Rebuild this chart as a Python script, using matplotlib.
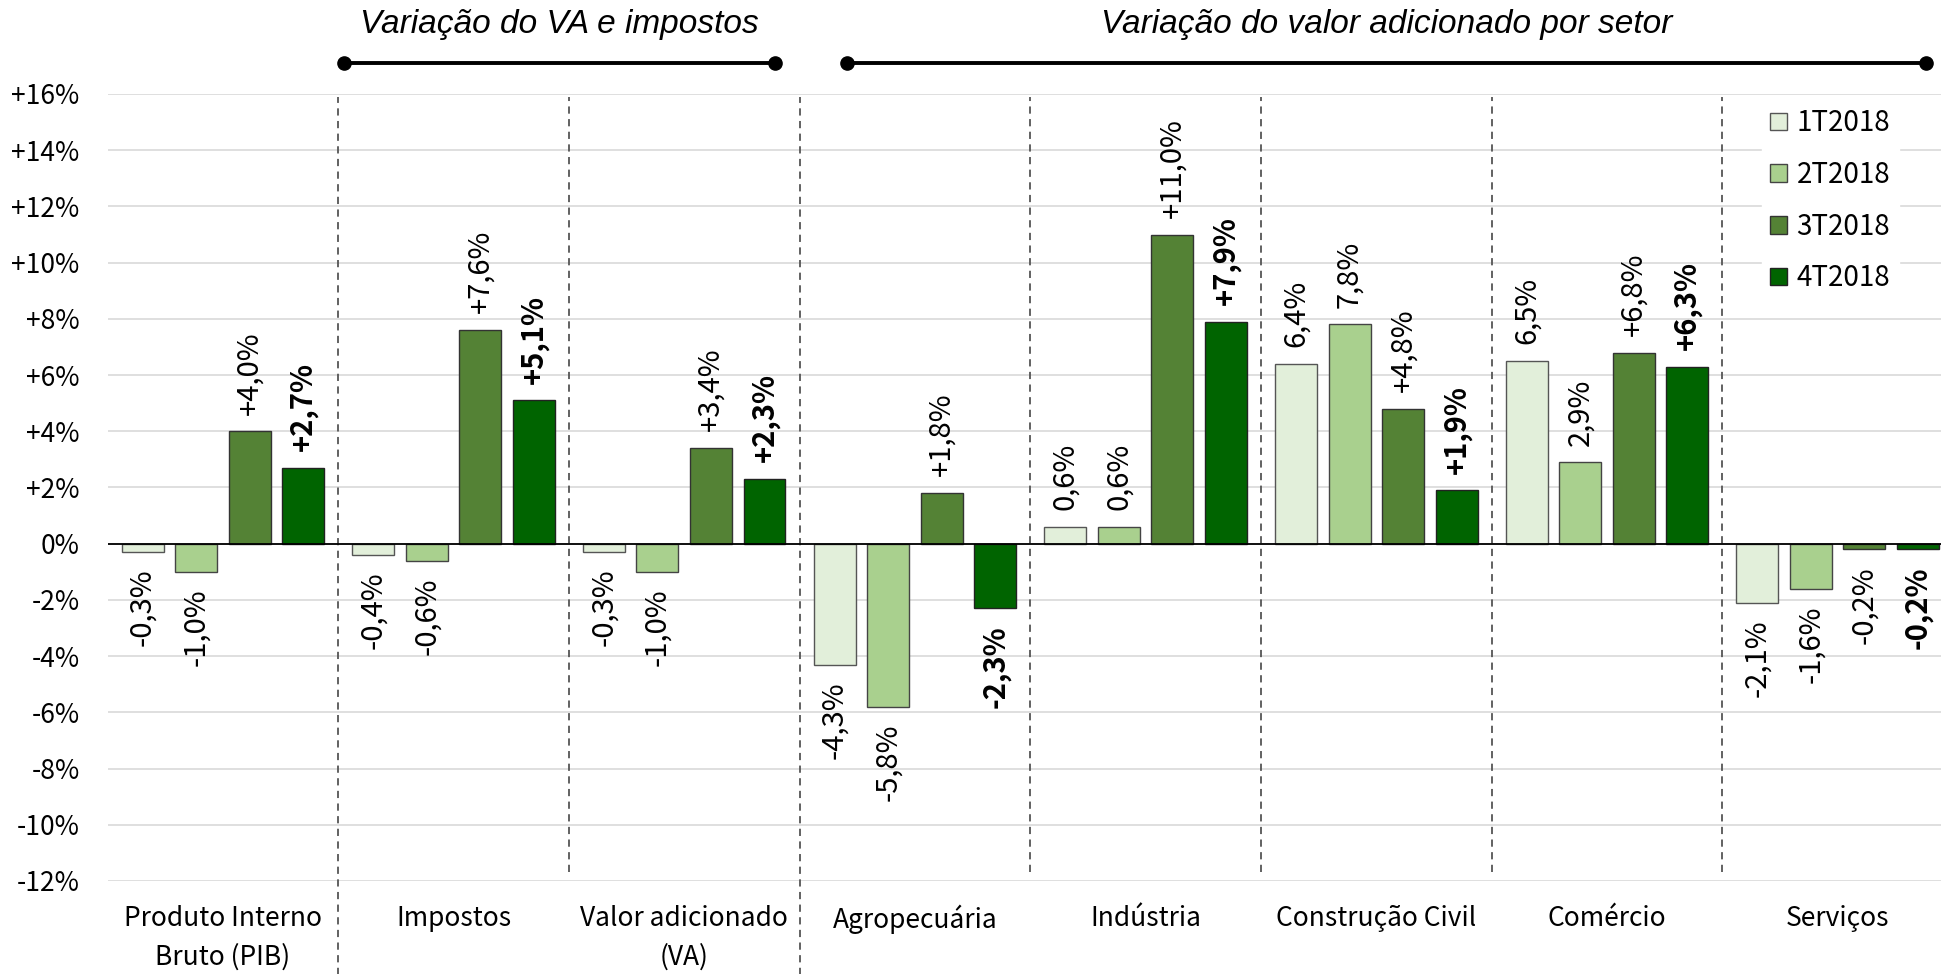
import matplotlib
matplotlib.use("Agg")
import matplotlib.pyplot as plt
from matplotlib.lines import Line2D
import numpy as np

plt.rcParams['font.family'] = ['Noto Sans CJK JP', 'DejaVu Sans']

categories = ["Produto Interno\nBruto (PIB)", "Impostos", "Valor adicionado\n(VA)",
              "Agropecuária", "Indústria", "Construção Civil", "Comércio", "Serviços"]
series_names = ["1T2018", "2T2018", "3T2018", "4T2018"]
q1 = [-0.3, -0.4, -0.3, -4.3, 0.6, 6.4, 6.5, -2.1]
q2 = [-1.0, -0.6, -1.0, -5.8, 0.6, 7.8, 2.9, -1.6]
q3 = [4.0, 7.6, 3.4, 1.8, 11.0, 4.8, 6.8, -0.2]
q4 = [2.7, 5.1, 2.3, -2.3, 7.9, 1.9, 6.3, -0.2]
labels_q1 = ["-0,3%", "-0,4%", "-0,3%", "-4,3%", "0,6%", "6,4%", "6,5%", "-2,1%"]
labels_q2 = ["-1,0%", "-0,6%", "-1,0%", "-5,8%", "0,6%", "7,8%", "2,9%", "-1,6%"]
labels_q3 = ["+4,0%", "+7,6%", "+3,4%", "+1,8%", "+11,0%", "+4,8%", "+6,8%", "-0,2%"]
labels_q4 = ["+2,7%", "+5,1%", "+2,3%", "-2,3%", "+7,9%", "+1,9%", "+6,3%", "-0,2%"]
yticks = [-12, -10, -8, -6, -4, -2, 0, 2, 4, 6, 8, 10, 12, 14, 16]
ytick_labels = ["-12%", "-10%", "-8%", "-6%", "-4%", "-2%", "0%", "+2%", "+4%", "+6%",
                "+8%", "+10%", "+12%", "+14%", "+16%"]
group_titles = ["Variação do VA e impostos", "Variação do valor adicionado por setor"]

colors = ["#E2EFDA", "#A9D08E", "#548235", "#006400"]
edges = ["#555555", "#444444", "#333333", "#222222"]

W, H = 1941, 974
fig = plt.figure(figsize=(W / 100, H / 100), dpi=100)
ax = fig.add_axes([107.5 / W, 1 - 881 / H, (1953 - 107.5) / W, (881 - 94) / H])

x = np.arange(len(categories))
bw = 0.182
step = 0.232
all_vals = [q1, q2, q3, q4]
all_labels = [labels_q1, labels_q2, labels_q3, labels_q4]
for i, (vals, labs) in enumerate(zip(all_vals, all_labels)):
    xs = x + (i - 1.5) * step
    ax.bar(xs, vals, width=bw, color=colors[i], edgecolor=edges[i], linewidth=1.0,
           label=series_names[i], zorder=3)
    for xi, v, t in zip(xs, vals, labs):
        if v >= 0:
            ax.annotate(t, (xi, v), xytext=(0, 12), textcoords='offset points',
                        rotation=90, ha='center', va='bottom', fontsize=21,
                        fontweight='bold' if i == 3 else 'normal', color='black')
        else:
            ax.annotate(t, (xi, v), xytext=(0, -12), textcoords='offset points',
                        rotation=90, ha='center', va='top', fontsize=21,
                        fontweight='bold' if i == 3 else 'normal', color='black')

ax.set_xlim(-0.5, 7.5)
ax.set_ylim(-12, 16)
ax.set_yticks(yticks)
ax.set_yticklabels(ytick_labels, fontsize=19)
ax.set_xticks(x)
ax.set_xticklabels(categories, fontsize=19, linespacing=1.55)
ax.tick_params(axis='both', length=0)
ax.tick_params(axis='y', pad=20)
ax.tick_params(axis='x', pad=17)
for s in ax.spines.values():
    s.set_visible(False)
ax.grid(axis='y', color='#d9d9d9', linewidth=1.2, zorder=0)
ax.set_axisbelow(True)
ax.axhline(0, color='black', linewidth=1.3, zorder=4)

# separators
for b in np.arange(0.5, 7.5, 1.0):
    if b in (0.5, 2.5):
        ax.axvline(b, ymin=-0.12, ymax=0.996, color='#555555', linestyle=(0, (4, 3)),
                   linewidth=1.3, clip_on=False, zorder=2)
    else:
        ax.axvline(b, ymin=0.011, ymax=0.996, color='#555555', linestyle=(0, (4, 3)),
                   linewidth=1.3, clip_on=False, zorder=2)

# group headers
ly = 1 - 63 / H
for (x0, x1), title in zip([(344, 775), (847, 1926)], group_titles):
    fig.add_artist(Line2D([x0 / W, x1 / W], [ly, ly], color='black', linewidth=2.8,
                          marker='o', markersize=9.5, markevery=[0, 1],
                          transform=fig.transFigure))
    fig.text((x0 + x1) / 2 / W, 1 - 25 / H, title, ha='center', va='center',
             fontsize=24, style='italic', family=['Liberation Sans', 'DejaVu Sans'])

leg = ax.legend(loc='upper left', bbox_to_anchor=(1748 / W, 1 - 86 / H),
                bbox_transform=fig.transFigure, frameon=True, fontsize=20,
                handlelength=0.6, handleheight=0.6, handletextpad=0.35,
                labelspacing=0.78, borderpad=0.3, fancybox=False)
leg.get_frame().set_edgecolor('white')
leg.get_frame().set_facecolor('white')
leg.get_frame().set_alpha(1)
leg.set_zorder(5)

fig.savefig("out.png", dpi=100)
